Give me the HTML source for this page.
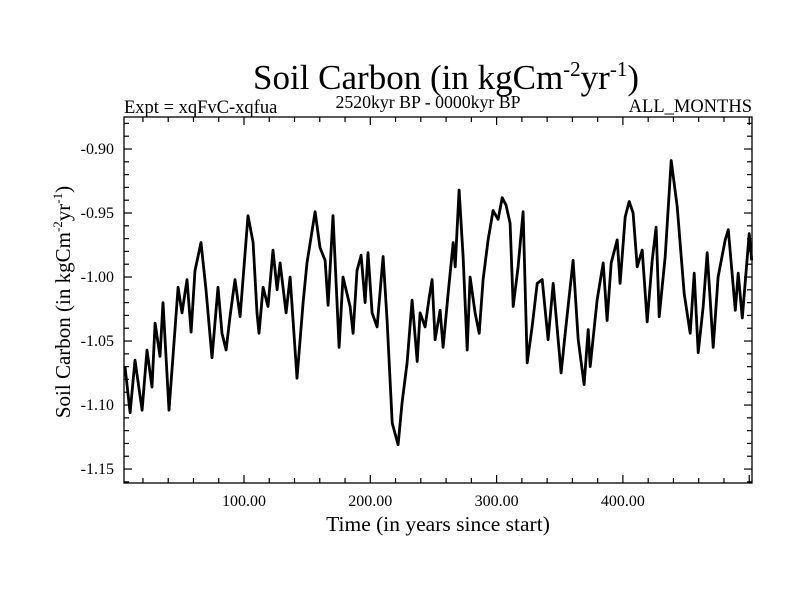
<!DOCTYPE html>
<html><head><meta charset="utf-8"><style>
body{margin:0;background:#fff;}
svg{display:block;font-family:"Liberation Serif",serif;}
</style></head><body>
<svg id="chart" width="800" height="600">
<text x="446" y="89" font-size="35" text-anchor="middle">Soil Carbon (in kgCm<tspan dy="-13" font-size="21">-2</tspan><tspan dy="13">yr</tspan><tspan dy="-13" font-size="21">-1</tspan><tspan dy="13">)</tspan></text>
<text x="124" y="113" font-size="18.5">Expt = xqFvC-xqfua</text>
<text x="428" y="108" font-size="17.8" text-anchor="middle">2520kyr BP - 0000kyr BP</text>
<text x="752" y="112" font-size="18.5" text-anchor="end">ALL_MONTHS</text>
<text transform="translate(70,302) rotate(-90)" font-size="21" text-anchor="middle">Soil Carbon (in kgCm<tspan dy="-8" font-size="13">-2</tspan><tspan dy="8">yr</tspan><tspan dy="-8" font-size="13">-1</tspan><tspan dy="8">)</tspan></text>
<text x="438" y="531" font-size="21.5" text-anchor="middle">Time (in years since start)</text>
<g id="axes"></g>
<path id="series" fill="none" stroke="#000" stroke-width="2.8" stroke-linejoin="round"></path>
<rect x="124" y="117" width="628" height="366" fill="none" stroke="#000" stroke-width="1.3"></rect>
</svg>
<script>
const years=[5.8,9.8,13.7,19.3,23.2,27.2,29.6,33.5,35.9,40.6,47.8,50.9,54.9,58.1,61.2,66.0,69.9,74.7,79.4,82.6,85.8,88.9,92.9,96.9,103.2,107.2,110.3,111.9,115.1,119.0,123.0,126.2,128.6,133.3,136.5,142.0,146.8,149.9,156.3,160.2,164.2,166.6,170.5,175.3,178.4,184.0,186.4,189.5,192.7,195.9,198.2,201.4,205.4,210.1,213.3,217.3,222.0,225.2,229.1,233.1,237.1,239.4,243.4,246.6,248.9,251.3,255.3,257.6,261.6,265.6,267.2,270.3,273.5,276.7,279.0,283.0,286.2,289.3,293.3,297.2,301.2,304.4,307.5,310.7,313.1,317.0,321.0,324.2,328.1,332.1,336.1,340.8,344.8,351.1,354.3,360.6,364.6,369.3,372.5,374.1,379.6,384.4,387.5,390.7,395.5,397.8,401.8,405.0,408.1,411.3,415.3,419.2,423.2,426.3,428.7,433.5,438.2,443.0,448.5,453.3,456.4,459.6,463.6,466.7,471.5,475.4,481.0,483.4,489.0,491.3,494.5,500.0,502.0];
const values=[-1.070,-1.106,-1.065,-1.104,-1.057,-1.086,-1.036,-1.062,-1.020,-1.104,-1.008,-1.028,-1.002,-1.043,-0.995,-0.973,-1.010,-1.063,-1.008,-1.044,-1.057,-1.031,-1.002,-1.031,-0.952,-0.973,-1.028,-1.044,-1.008,-1.023,-0.979,-1.010,-0.989,-1.028,-1.000,-1.079,-1.020,-0.989,-0.949,-0.977,-0.987,-1.022,-0.952,-1.055,-1.000,-1.023,-1.044,-0.995,-0.983,-1.020,-0.981,-1.028,-1.039,-0.984,-1.034,-1.114,-1.131,-1.098,-1.067,-1.018,-1.066,-1.028,-1.039,-1.016,-1.002,-1.049,-1.026,-1.055,-1.013,-0.973,-0.992,-0.932,-0.984,-1.057,-1.000,-1.028,-1.044,-1.002,-0.971,-0.948,-0.955,-0.938,-0.944,-0.958,-1.023,-0.992,-0.949,-1.067,-1.039,-1.005,-1.002,-1.049,-1.005,-1.075,-1.044,-0.987,-1.049,-1.084,-1.041,-1.070,-1.018,-0.989,-1.034,-0.989,-0.971,-1.005,-0.953,-0.941,-0.950,-0.992,-0.979,-1.035,-0.987,-0.961,-1.031,-0.984,-0.909,-0.945,-1.013,-1.044,-0.997,-1.059,-1.023,-0.981,-1.055,-1.000,-0.971,-0.963,-1.026,-0.997,-1.032,-0.966,-0.987];
const xTicks=[100,200,300,400];
const xTickLabels=["100.00","200.00","300.00","400.00"];
const yTicks=[-0.90,-0.95,-1.00,-1.05,-1.10,-1.15];
const yTickLabels=["-0.90","-0.95","-1.00","-1.05","-1.10","-1.15"];
const X0=124,X1=752,Y0=117,Y1=483,xMin=5,xMax=502.2,yMin=-1.1609,yMax=-0.875;
const sx=v=>X0+(v-xMin)/(xMax-xMin)*(X1-X0);
const sy=v=>Y1-(v-yMin)/(yMax-yMin)*(Y1-Y0);
const NS="http://www.w3.org/2000/svg";
const ax=document.getElementById('axes');
function line(x1,y1,x2,y2,name){const l=document.createElementNS(NS,'line');l.setAttribute('x1',x1);l.setAttribute('y1',y1);l.setAttribute('x2',x2);l.setAttribute('y2',y2);l.setAttribute('stroke','#000');l.setAttribute('stroke-width','1.2');


ax.appendChild(l);}
for(let v=20;v<xMax;v+=20){const x=sx(v);const major=v%100===0;const len=major?8:5;line(x,Y1,x,Y1-len,'x-tick');line(x,Y0,x,Y0+len,'x-tick-top');}
for(let i=-116;i<=-88;i++){const v=i/100;const y=sy(v);const major=(i%5===0);const len=major?8:5;line(X0,y,X0+len,y,'y-tick');line(X1,y,X1-len,y,'y-tick-right');}
xTicks.forEach((v,i)=>{const t=document.createElementNS(NS,'text');t.setAttribute('x',sx(v));t.setAttribute('y',Y1+23);t.setAttribute('font-size','16');t.setAttribute('text-anchor','middle');t.textContent=xTickLabels[i];


ax.appendChild(t);});
yTicks.forEach((v,i)=>{const t=document.createElementNS(NS,'text');t.setAttribute('x',X0-10);t.setAttribute('y',sy(v)+5);t.setAttribute('font-size','16');t.setAttribute('text-anchor','end');t.textContent=yTickLabels[i];


ax.appendChild(t);});
document.getElementById('series').setAttribute('d',years.map((y,i)=>(i?'L':'M')+sx(y).toFixed(1)+','+sy(values[i]).toFixed(1)).join(''));
</script>
</body></html>
